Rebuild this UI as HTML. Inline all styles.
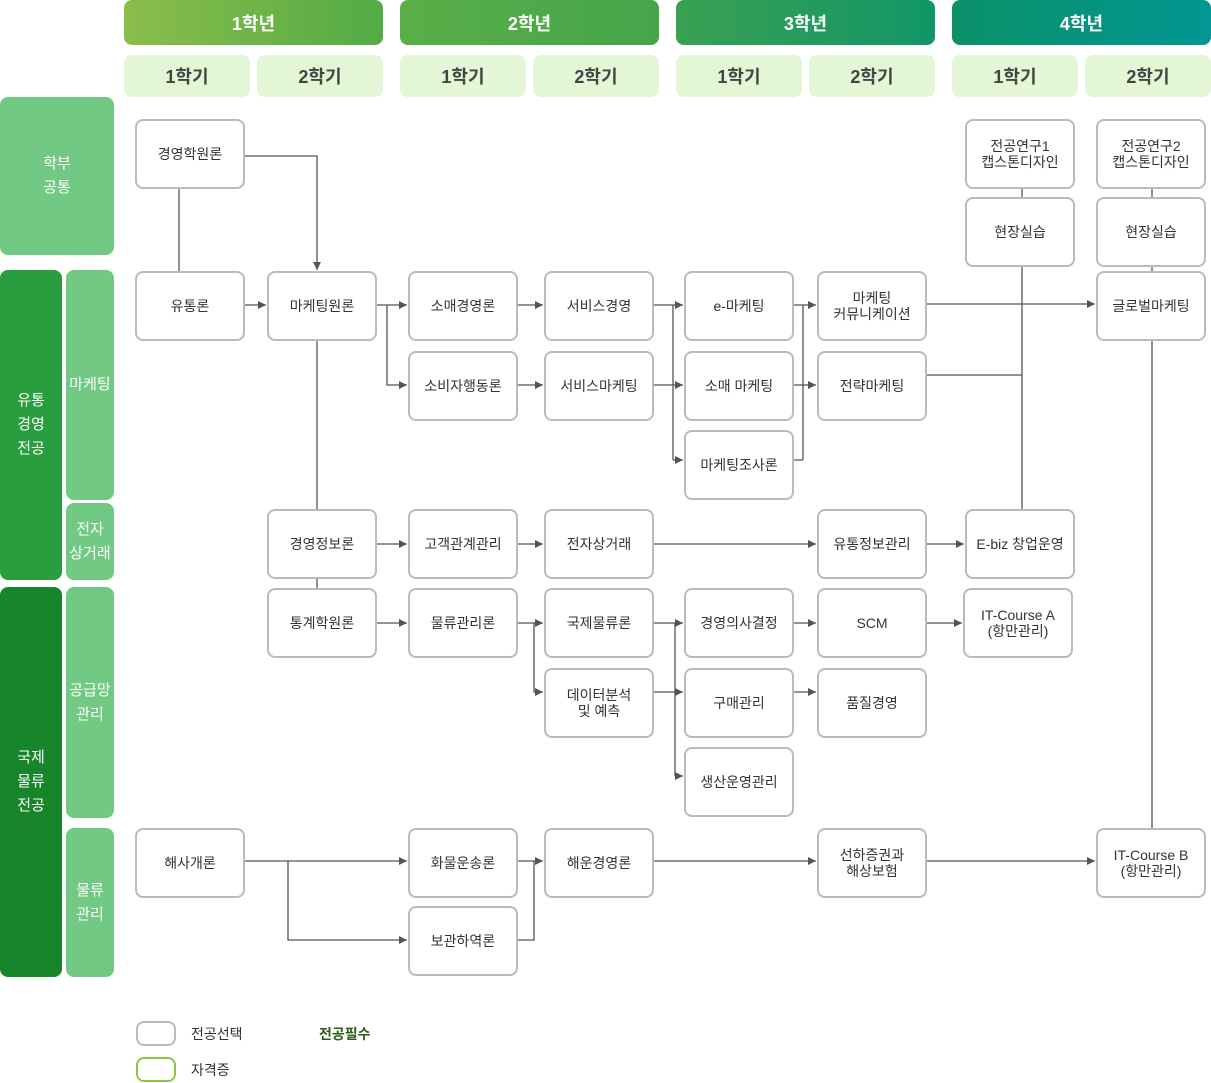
<!DOCTYPE html>
<html><head><meta charset="utf-8"><style>
*{margin:0;padding:0;box-sizing:border-box}
body{width:1211px;height:1083px;background:#fff;position:relative;overflow:hidden;font-family:"Liberation Sans","Noto Sans CJK KR",sans-serif}
.a{position:absolute;display:flex;align-items:center;justify-content:center;text-align:center}
.yr{top:0;height:45px;width:259px;border-radius:8px;color:#fff;font-size:18px;font-weight:bold}
.sm{top:55px;height:42px;width:126px;border-radius:8px;background:#e3f6d5;color:#444;font-size:18px;font-weight:bold}
.lb{color:#fff;font-size:15px;line-height:24px;border-radius:8px}
.n{width:110px;height:70px;border:2px solid #bbb;border-radius:8px;background:#fff;color:#333;font-size:14px;line-height:16px;z-index:2}
svg{position:absolute;left:0;top:0;z-index:1}
</style></head><body>
<div class="a yr" style="left:124px;background:linear-gradient(90deg,#8bbd4c,#53ab45)">1학년</div>
<div class="a yr" style="left:400px;background:linear-gradient(90deg,#5aae48,#45a54a)">2학년</div>
<div class="a yr" style="left:676px;background:linear-gradient(90deg,#3aa052,#119668)">3학년</div>
<div class="a yr" style="left:952px;background:linear-gradient(90deg,#0b9068,#029794)">4학년</div>
<div class="a sm" style="left:124px">1학기</div><div class="a sm" style="left:257px">2학기</div>
<div class="a sm" style="left:400px">1학기</div><div class="a sm" style="left:533px">2학기</div>
<div class="a sm" style="left:676px">1학기</div><div class="a sm" style="left:809px">2학기</div>
<div class="a sm" style="left:952px">1학기</div><div class="a sm" style="left:1085px">2학기</div>

<div class="a lb" style="left:0;top:97px;width:114px;height:158px;background:#72c984">학부<br>공통</div>
<div class="a lb" style="left:0;top:270px;width:62px;height:310px;background:#2a9d3e">유통<br>경영<br>전공</div>
<div class="a lb" style="left:66px;top:270px;width:48px;height:230px;background:#72c984">마케팅</div>
<div class="a lb" style="left:66px;top:503px;width:48px;height:77px;background:#72c984">전자<br>상거래</div>
<div class="a lb" style="left:0;top:587px;width:62px;height:390px;background:#17862b">국제<br>물류<br>전공</div>
<div class="a lb" style="left:66px;top:587px;width:48px;height:231px;background:#72c984">공급망<br>관리</div>
<div class="a lb" style="left:66px;top:828px;width:48px;height:149px;background:#72c984">물류<br>관리</div>

<svg width="1211" height="1083" viewBox="0 0 1211 1083">
<defs><marker id="ar" markerWidth="8" markerHeight="8" refX="8" refY="4" orient="auto" markerUnits="userSpaceOnUse"><path d="M0,0 L8,4 L0,8z" fill="#555"/></marker></defs>
<g stroke="#555" stroke-width="1.3" fill="none">
<path d="M245,156H317V270" marker-end="url(#ar)"/>
<path d="M179,189V271"/>
<path d="M245,305H266" marker-end="url(#ar)"/>
<path d="M377,305H407" marker-end="url(#ar)"/>
<path d="M387,305V385H407" marker-end="url(#ar)"/>
<path d="M317,341V509M317,579V588"/>
<path d="M518,305H543" marker-end="url(#ar)"/>
<path d="M518,385H543" marker-end="url(#ar)"/>
<path d="M654,305H673M654,385H673M673,305V460"/>
<path d="M673,305H683" marker-end="url(#ar)"/>
<path d="M673,385H683" marker-end="url(#ar)"/>
<path d="M673,460H683" marker-end="url(#ar)"/>
<path d="M794,305H803M794,385H803M794,460H803M803,305V460"/>
<path d="M803,305H816" marker-end="url(#ar)"/>
<path d="M803,385H816" marker-end="url(#ar)"/>
<path d="M927,304H1095" marker-end="url(#ar)"/>
<path d="M927,375H1022M1022,189V197M1022,267V509"/>
<path d="M1152,189V197M1152,267V271M1152,341V828"/>
<path d="M377,544H407" marker-end="url(#ar)"/>
<path d="M518,544H543" marker-end="url(#ar)"/>
<path d="M654,544H816" marker-end="url(#ar)"/>
<path d="M927,544H964" marker-end="url(#ar)"/>
<path d="M377,623H407" marker-end="url(#ar)"/>
<path d="M518,623H543" marker-end="url(#ar)"/>
<path d="M534,623V692H543" marker-end="url(#ar)"/>
<path d="M654,623H675M675,623V776"/>
<path d="M675,623H683" marker-end="url(#ar)"/>
<path d="M654,692H683" marker-end="url(#ar)"/>
<path d="M675,776H683" marker-end="url(#ar)"/>
<path d="M794,623H816" marker-end="url(#ar)"/>
<path d="M794,692H816" marker-end="url(#ar)"/>
<path d="M927,623H962" marker-end="url(#ar)"/>
<path d="M245,861H407" marker-end="url(#ar)"/>
<path d="M288,861V940H407" marker-end="url(#ar)"/>
<path d="M518,861H543" marker-end="url(#ar)"/>
<path d="M518,940H534V861"/>
<path d="M654,861H816" marker-end="url(#ar)"/>
<path d="M927,861H1095" marker-end="url(#ar)"/>
</g></svg>

<div class="a n" style="left:135px;top:119px">경영학원론</div>
<div class="a n" style="left:135px;top:271px">유통론</div>
<div class="a n" style="left:267px;top:271px">마케팅원론</div>
<div class="a n" style="left:408px;top:271px">소매경영론</div>
<div class="a n" style="left:408px;top:351px">소비자행동론</div>
<div class="a n" style="left:544px;top:271px">서비스경영</div>
<div class="a n" style="left:544px;top:351px">서비스마케팅</div>
<div class="a n" style="left:684px;top:271px">e-마케팅</div>
<div class="a n" style="left:684px;top:351px">소매 마케팅</div>
<div class="a n" style="left:684px;top:430px">마케팅조사론</div>
<div class="a n" style="left:817px;top:271px">마케팅<br>커뮤니케이션</div>
<div class="a n" style="left:817px;top:351px">전략마케팅</div>
<div class="a n" style="left:965px;top:119px">전공연구1<br>캡스톤디자인</div>
<div class="a n" style="left:965px;top:197px">현장실습</div>
<div class="a n" style="left:1096px;top:119px">전공연구2<br>캡스톤디자인</div>
<div class="a n" style="left:1096px;top:197px">현장실습</div>
<div class="a n" style="left:1096px;top:271px">글로벌마케팅</div>
<div class="a n" style="left:267px;top:509px">경영정보론</div>
<div class="a n" style="left:408px;top:509px">고객관계관리</div>
<div class="a n" style="left:544px;top:509px">전자상거래</div>
<div class="a n" style="left:817px;top:509px">유통정보관리</div>
<div class="a n" style="left:965px;top:509px">E-biz 창업운영</div>
<div class="a n" style="left:267px;top:588px">통계학원론</div>
<div class="a n" style="left:408px;top:588px">물류관리론</div>
<div class="a n" style="left:544px;top:588px">국제물류론</div>
<div class="a n" style="left:684px;top:588px">경영의사결정</div>
<div class="a n" style="left:817px;top:588px">SCM</div>
<div class="a n" style="left:963px;top:588px">IT-Course A<br>(항만관리)</div>
<div class="a n" style="left:544px;top:668px">데이터분석<br>및 예측</div>
<div class="a n" style="left:684px;top:668px">구매관리</div>
<div class="a n" style="left:817px;top:668px">품질경영</div>
<div class="a n" style="left:684px;top:747px">생산운영관리</div>
<div class="a n" style="left:135px;top:828px">해사개론</div>
<div class="a n" style="left:408px;top:828px">화물운송론</div>
<div class="a n" style="left:544px;top:828px">해운경영론</div>
<div class="a n" style="left:817px;top:828px">선하증권과<br>해상보험</div>
<div class="a n" style="left:1096px;top:828px">IT-Course B<br>(항만관리)</div>
<div class="a n" style="left:408px;top:906px">보관하역론</div>

<div style="position:absolute;left:136px;top:1021px;width:40px;height:25px;border:2px solid #bbb;border-radius:8px"></div>
<div style="position:absolute;left:191px;top:1024px;font-size:14px;color:#333">전공선택</div>
<div style="position:absolute;left:319px;top:1024px;font-size:14px;color:#2e5d1a;font-weight:bold">전공필수</div>
<div style="position:absolute;left:136px;top:1057px;width:40px;height:25px;border:2px solid #8dc63f;border-radius:8px"></div>
<div style="position:absolute;left:191px;top:1060px;font-size:14px;color:#333">자격증</div>
</body></html>
